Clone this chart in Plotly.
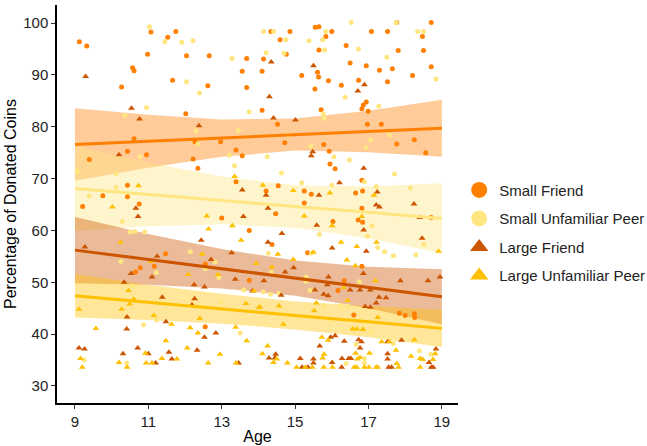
import plotly.graph_objects as go

# ---------------- data ----------------
series_names = ["Small Friend", "Small Unfamiliar Peer", "Large Friend", "Large Unfamiliar Peer"]
series_colors = ["#FF8000", "#FFE680", "#CC5500", "#FFC000"]
series_symbols = ["circle", "circle", "triangle-up", "triangle-up"]

small_friend_pts = [
    (9.12, 96.4), (9.32, 95.6), (11.07, 98.3), (11.53, 97.3), (11.75, 98.4), (10.98, 94.0), (12.04, 93.7),
    (12.66, 93.7), (13.68, 93.2), (10.57, 91.4), (10.61, 90.8), (13.56, 90.7), (11.66, 89.0), (10.27, 87.7),
    (12.62, 87.9), (13.68, 87.6), (12.02, 82.5), (10.61, 77.7), (12.27, 77.1), (12.97, 77.1), (13.39, 75.5),
    (9.39, 73.7), (10.43, 75.3), (10.95, 74.6), (12.22, 73.8), (13.56, 74.4), (12.35, 72.0), (13.39, 69.4),
    (10.43, 68.7), (9.76, 66.7), (10.43, 66.5),
    (14.34, 98.4), (14.86, 98.4), (15.55, 99.2), (15.65, 99.3), (16.0, 98.4), (17.08, 98.4), (17.52, 98.4),
    (17.77, 100.1), (18.71, 100.1), (18.47, 97.4), (14.59, 96.8), (15.84, 97.4), (16.39, 95.7), (15.65, 94.8),
    (17.81, 94.7), (18.5, 94.7), (14.76, 94.0), (14.14, 93.1), (16.5, 92.3), (16.94, 91.8), (17.30, 90.9),
    (17.65, 91.2), (18.71, 91.6), (14.1, 90.7), (15.61, 90.5), (15.64, 89.6), (15.18, 89.9), (15.91, 88.9),
    (16.73, 89.0), (17.52, 88.7), (18.2, 89.9), (16.26, 88.0), (15.54, 87.3), (16.94, 84.8), (16.86, 84.2),
    (16.82, 83.5), (16.99, 83.0), (14.1, 83.2), (15.71, 83.3), (14.52, 80.5), (16.97, 80.5), (17.35, 80.5),
    (14.72, 76.9), (15.78, 76.6), (17.77, 76.7), (18.25, 77.5), (15.93, 75.3), (18.56, 75.0), (15.95, 72.8),
    (16.09, 71.9), (16.82, 69.7), (14.54, 68.6), (15.25, 67.6), (15.44, 67.0), (16.65, 67.2), (16.84, 67.6),
    (14.21, 67.6),
    (9.21, 64.6), (10.75, 65.1), (13.0, 62.4), (13.75, 60.0), (11.47, 55.5), (12.55, 53.5), (11.16, 53.1),
    (10.78, 52.8), (10.65, 52.0), (13.75, 50.4), (12.55, 41.4),
    (14.47, 63.2), (15.25, 65.3), (16.82, 64.3), (16.72, 62.0), (16.84, 61.6), (18.71, 62.5), (16.03, 61.7),
    (14.37, 57.3), (15.34, 55.7), (16.82, 53.1), (16.34, 50.3), (16.17, 48.4), (17.84, 44.0), (18.0, 43.6),
    (18.25, 43.9), (18.26, 43.2), (16.6, 43.7),
]

small_unfamiliar_pts = [
    (11.03, 99.3), (11.45, 96.4), (11.91, 96.3), (12.22, 96.6), (13.28, 93.2), (12.04, 88.7), (12.39, 86.5),
    (10.95, 83.7), (10.36, 82.2), (13.75, 82.9), (12.30, 79.2), (13.45, 79.3), (12.35, 76.7), (10.77, 74.2),
    (13.21, 74.5), (9.06, 71.4), (10.12, 71.0), (13.35, 72.5), (10.12, 68.3), (9.39, 66.7),
    (14.14, 98.4), (14.41, 98.4), (15.84, 98.4), (16.53, 100.1), (17.75, 100.1), (18.34, 98.4), (18.5, 98.4),
    (14.75, 96.8), (15.38, 96.6), (15.75, 96.8), (15.80, 94.8), (16.73, 95.0), (14.21, 94.3), (14.7, 94.2),
    (17.5, 93.4), (18.84, 89.2), (16.36, 85.7), (17.28, 84.0), (15.77, 82.5), (15.79, 81.6), (14.8, 78.4),
    (17.57, 78.4), (17.06, 77.5), (15.43, 76.3), (16.94, 76.0), (14.24, 74.2), (16.06, 74.2), (16.48, 73.6),
    (14.63, 71.1), (17.71, 70.9), (16.89, 69.4), (15.18, 69.2), (16.0, 68.7), (17.21, 68.5), (18.14, 68.2),
    (10.29, 61.7), (10.5, 59.7), (10.63, 59.8), (10.9, 59.7), (12.14, 55.9), (12.82, 53.9), (12.55, 52.6),
    (10.25, 54.0), (11.22, 51.9), (12.92, 50.9), (10.57, 49.3), (13.6, 48.5), (12.98, 46.2), (11.23, 42.7),
    (10.87, 41.8), (13.5, 40.2), (9.25, 35.0), (10.41, 34.4),
    (17.1, 60.9), (15.66, 59.2), (16.97, 58.9), (18.51, 57.3), (17.25, 56.7), (17.44, 55.9), (17.68, 55.1),
    (18.29, 55.3), (14.27, 55.6), (15.44, 55.6), (14.35, 51.9), (15.3, 51.0), (15.3, 50.2), (16.75, 50.1),
    (15.41, 48.4), (14.13, 48.1), (14.33, 47.7), (14.56, 47.9), (15.79, 45.4), (16.25, 45.5), (16.44, 45.4),
    (16.66, 42.7), (15.99, 42.6), (16.62, 41.0), (17.07, 40.5), (16.66, 38.0), (17.68, 38.2), (18.39, 36.8),
    (18.70, 36.1), (16.89, 35.3), (16.39, 34.3), (16.89, 34.4),
]

large_friend_pts = [
    (9.29, 89.7), (10.54, 83.6), (10.76, 81.5), (12.38, 80.2), (10.2, 74.6), (13.56, 67.8),
    (14.35, 92.5), (15.5, 91.8), (16.89, 88.1), (16.71, 86.9), (14.3, 85.8), (14.41, 81.7), (15.01, 81.3),
    (15.48, 75.2), (15.44, 74.4), (16.87, 72.0), (16.21, 69.2), (15.65, 66.8), (17.24, 67.4), (14.21, 66.8),
    (10.66, 64.3), (10.72, 62.7), (13.59, 62.7), (12.44, 58.1), (9.27, 56.8), (11.24, 55.0), (13.27, 55.7),
    (12.71, 54.4), (10.53, 51.7), (11.10, 51.0), (13.37, 50.6), (10.34, 50.0), (12.25, 49.5), (12.53, 49.1),
    (13.84, 48.3), (11.38, 47.1), (12.26, 46.8), (12.19, 45.6), (10.42, 43.3), (11.48, 42.4), (10.41, 41.0),
    (12.84, 40.2), (12.53, 39.4), (9.11, 37.3), (9.26, 37.1), (10.71, 37.3), (12.33, 36.9), (10.31, 36.2),
    (11.0, 36.2), (11.56, 36.5), (11.64, 35.2), (11.2, 34.4), (13.46, 34.4),
    (14.26, 64.3), (17.21, 64.9), (17.3, 64.5), (18.24, 65.1), (18.4, 62.5), (15.59, 61.0), (16.87, 60.1),
    (14.64, 59.4), (18.46, 58.5), (14.26, 57.7), (16.01, 56.6), (16.94, 56.0), (14.96, 52.8), (14.73, 52.0),
    (16.86, 51.7), (15.91, 51.0), (17.87, 50.3), (18.62, 50.3), (18.95, 51.0), (14.15, 50.3), (15.54, 48.5),
    (15.88, 49.5), (16.5, 48.5), (16.77, 48.5), (17.05, 48.5), (15.78, 47.7), (15.9, 47.4), (14.62, 47.5),
    (17.29, 47.1), (17.48, 47.0), (17.21, 46.0), (16.91, 45.3), (17.05, 45.2), (15.97, 39.4), (16.09, 39.7),
    (16.34, 38.6), (16.73, 38.9), (16.81, 38.5), (17.52, 38.5), (17.9, 38.8), (15.67, 37.7), (16.77, 37.3),
    (18.84, 37.1), (14.47, 36.1), (14.45, 35.4), (17.52, 36.2), (15.14, 35.3), (15.5, 35.2), (16.28, 35.3),
    (16.46, 35.3), (16.52, 35.3), (17.52, 35.2), (18.65, 34.5), (14.29, 35.4), (15.19, 33.6), (15.35, 33.6),
    (15.5, 34.4), (16.01, 34.5), (16.27, 33.6), (17.55, 33.6), (17.63, 33.6), (18.71, 33.6), (18.76, 33.6),
]

large_unfamiliar_pts = [
    (13.35, 70.4), (10.73, 68.6),
    (14.12, 68.7), (14.95, 67.7), (15.95, 67.2), (17.15, 66.8),
    (10.02, 64.5), (12.59, 62.8), (13.29, 60.9), (12.64, 60.3), (13.53, 58.1), (10.24, 57.7), (12.47, 55.4),
    (11.07, 54.0), (12.09, 51.5), (12.9, 51.5), (10.46, 48.4), (13.88, 48.3), (10.6, 46.7), (10.49, 45.8),
    (13.66, 45.9), (14.02, 45.2), (9.11, 44.8), (10.27, 44.8), (11.15, 43.6), (12.4, 43.0), (11.63, 41.9),
    (9.57, 41.1), (12.14, 41.2), (13.38, 41.3), (12.35, 40.2), (11.48, 38.7), (13.68, 38.7), (12.06, 37.3),
    (10.92, 36.3), (12.95, 36.1), (9.15, 35.3), (11.78, 35.2), (11.37, 35.3), (10.2, 34.5), (10.94, 34.4),
    (11.1, 34.4), (12.63, 34.4), (13.39, 34.4), (9.2, 33.6), (10.42, 33.6),
    (15.25, 62.8), (16.82, 62.7), (16.01, 60.9), (17.22, 57.7), (16.25, 57.7), (16.68, 56.9), (18.91, 56.0),
    (14.53, 55.4), (15.5, 55.8), (14.95, 54.4), (16.41, 54.3), (13.94, 53.6), (14.37, 52.9), (16.64, 53.2),
    (17.19, 50.3), (16.32, 49.0), (16.43, 46.5), (15.58, 46.0), (14.04, 45.2), (14.56, 45.4), (15.52, 44.5),
    (17.25, 43.2), (14.68, 41.9), (16.57, 41.0), (16.68, 41.0), (16.85, 40.9), (15.73, 39.4), (15.9, 38.8),
    (17.36, 38.5), (17.57, 38.5), (18.25, 38.9), (14.25, 37.7), (17.75, 36.9), (14.11, 36.2), (15.79, 36.1),
    (16.65, 36.3), (17.03, 36.3), (18.16, 35.7), (18.82, 36.2), (15.75, 35.4), (16.7, 35.2), (16.77, 35.5),
    (18.41, 35.3), (18.48, 35.1), (18.76, 35.1), (14.41, 34.5), (14.5, 35.2), (14.79, 34.4), (15.04, 33.6),
    (15.28, 33.6), (15.47, 33.6), (15.78, 33.6), (16.02, 33.6), (16.61, 33.6), (16.68, 33.6), (16.89, 33.6),
    (17.01, 33.6), (17.21, 33.6), (17.25, 33.6), (17.77, 34.3), (17.82, 33.6), (18.41, 33.6),
]

# fitted lines and confidence bands, read at these ages
fit_ages = [9, 11, 13, 15, 17, 19]
sf_fit = [76.6, 77.2, 77.8, 78.5, 79.1, 79.7]
sf_lo = [69.6, 72.1, 74.2, 75.4, 75.1, 74.2]
sf_hi = [83.6, 82.3, 81.4, 81.6, 83.1, 85.2]
su_fit = [68.1, 66.9, 65.8, 64.6, 63.5, 62.3]
su_lo = [59.9, 60.8, 61.2, 60.5, 58.5, 55.6]
su_hi = [76.3, 73.1, 70.4, 68.7, 68.5, 69.1]
lf_fit = [56.2, 54.4, 52.6, 50.8, 49.0, 47.2]
lf_lo = [49.8, 49.5, 48.8, 47.4, 45.0, 41.9]
lf_hi = [62.6, 59.3, 56.4, 54.2, 53.0, 52.5]
lu_fit = [47.4, 46.1, 44.9, 43.6, 42.4, 41.1]
lu_lo = [43.2, 42.7, 42.0, 40.9, 39.4, 37.5]
lu_hi = [51.6, 49.5, 47.8, 46.3, 45.4, 44.7]

x_ticks = [9, 11, 13, 15, 17, 19]
y_ticks = [30, 40, 50, 60, 70, 80, 90, 100]

points = [small_friend_pts, small_unfamiliar_pts, large_friend_pts, large_unfamiliar_pts]
fits = [sf_fit, su_fit, lf_fit, lu_fit]
los = [sf_lo, su_lo, lf_lo, lu_lo]
his = [sf_hi, su_hi, lf_hi, lu_hi]


def rgba(hex_color, a):
    h = hex_color.lstrip("#")
    r, g, b = int(h[0:2], 16), int(h[2:4], 16), int(h[4:6], 16)
    return f"rgba({r},{g},{b},{a})"


fig = go.Figure()

# bands
for name, col, lo, hi in zip(series_names, series_colors, los, his):
    fig.add_trace(go.Scatter(
        x=fit_ages + fit_ages[::-1], y=hi + lo[::-1],
        fill="toself", fillcolor=rgba(col, 0.4), line=dict(width=0),
        mode="lines", hoverinfo="skip", showlegend=False,
    ))

# points
for name, col, sym, pts in zip(series_names, series_colors, series_symbols, points):
    fig.add_trace(go.Scatter(
        x=[p[0] for p in pts], y=[p[1] for p in pts], mode="markers",
        marker=dict(color=col, symbol=sym, size=5 if sym == "circle" else 6, line=dict(width=0)),
        name=name, showlegend=False,
    ))

# fit lines
for name, col, fit in zip(series_names, series_colors, fits):
    fig.add_trace(go.Scatter(
        x=fit_ages, y=fit, mode="lines", line=dict(color=col, width=3),
        showlegend=False, hoverinfo="skip",
    ))

# legend entries
for name, col, sym in zip(series_names, series_colors, series_symbols):
    fig.add_trace(go.Scatter(
        x=[None], y=[None], mode="markers", name=name, legendgroup=name,
        marker=dict(color=col, symbol=sym, size=16),
    ))

axis_font = dict(family="Liberation Sans, Arial, sans-serif", size=15, color="#222222")
title_font = dict(family="Liberation Sans, Arial, sans-serif", size=16, color="#000000")

fig.update_layout(
    template="none",
    width=647, height=446,
    margin=dict(l=57, r=189, t=5, b=43, autoexpand=False),
    plot_bgcolor="white", paper_bgcolor="white",
    font=dict(family="Liberation Sans, Arial, sans-serif"),
    legend=dict(
        x=1.003, xanchor="left", y=0.428, yanchor="middle",
        font=dict(family="Liberation Sans, Arial, sans-serif", size=15, color="#222222"),
        tracegroupgap=6, bgcolor="rgba(0,0,0,0)",
    ),
    xaxis=dict(
        range=[8.51, 19.44], tickvals=x_ticks, ticktext=[str(t) for t in x_ticks],
        showgrid=False, zeroline=False, showline=True, linecolor="black", linewidth=1.5,
        ticks="outside", ticklen=4, tickcolor="#333333", tickfont=axis_font, automargin=False,
        title=dict(text="Age", font=title_font, standoff=2),
    ),
    yaxis=dict(
        range=[26.7, 103.5], tickvals=y_ticks, ticktext=[str(t) for t in y_ticks],
        showgrid=False, zeroline=False, showline=True, linecolor="black", linewidth=1.5,
        ticks="outside", ticklen=4, tickcolor="#333333", tickfont=axis_font, automargin=False,
        title=dict(text="Percentage of Donated Coins", font=title_font, standoff=3),
    ),
)

fig.write_html(
    "out.html",
    config={"displayModeBar": False},
    post_script="document.body.style.margin='0';document.body.style.padding='0';",
)
